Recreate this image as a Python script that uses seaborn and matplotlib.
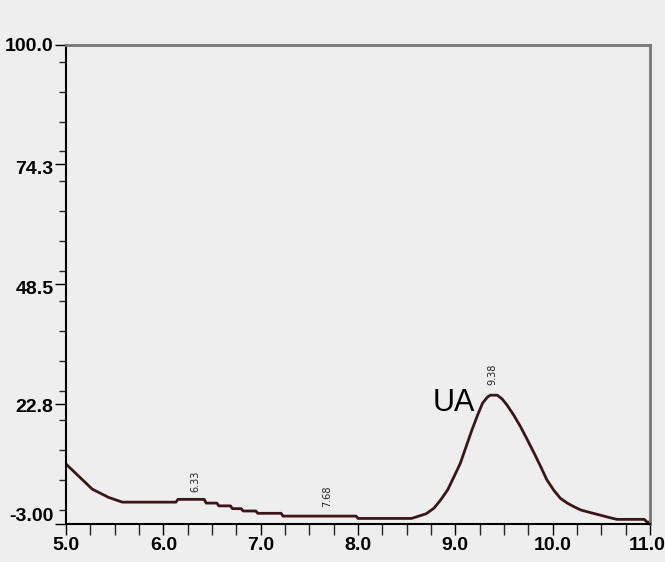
import numpy as np
import pandas as pd
import seaborn as sns
import matplotlib.pyplot as plt
from matplotlib.ticker import MultipleLocator
from matplotlib.transforms import ScaledTranslation

# retention time (min) and signal
time_min = [5.00, 5.27, 5.44, 5.58, 6.13, 6.15, 6.42, 6.44, 6.55, 6.57, 6.69, 6.71,
            6.80, 6.82, 6.95, 6.97, 7.21, 7.23, 7.98, 8.00, 8.55, 8.61, 8.70, 8.78,
            8.85, 8.92, 8.98, 9.05, 9.11, 9.17, 9.23, 9.28, 9.33, 9.36, 9.43, 9.48,
            9.53, 9.60, 9.67, 9.74, 9.81, 9.88, 9.94, 10.01, 10.08, 10.15, 10.22,
            10.29, 10.38, 10.49, 10.58, 10.66, 10.94, 10.97, 11.00]
signal = [9.9, 4.5, 2.7, 1.7, 1.7, 2.3, 2.3, 1.5, 1.5, 0.9, 0.9, 0.3,
          0.3, -0.2, -0.2, -0.7, -0.7, -1.3, -1.3, -1.8, -1.8, -1.4, -0.8, 0.4,
          2.2, 4.3, 6.9, 10.0, 13.6, 17.2, 20.5, 23.0, 24.3, 24.7, 24.7, 23.9,
          22.6, 20.4, 17.9, 15.1, 12.2, 9.2, 6.5, 4.3, 2.5, 1.5, 0.7,
          0.0, -0.5, -1.1, -1.6, -2.0, -2.0, -2.6, -2.6]

y_ticks = [100.0, 74.3, 48.5, 22.8, -3.00]
y_labels = ["100.0", "74.3", "48.5", "22.8", "-3.00"]
x_ticks = [5.0, 6.0, 7.0, 8.0, 9.0, 10.0, 11.0]
x_labels = ["5.0", "6.0", "7.0", "8.0", "9.0", "10.0", "11.0"]

peak_times = [6.33, 7.68, 9.38]
peak_labels = ["6.33", "7.68", "9.38"]
peak_label_y = [3.9, 0.7, 26.9]

sns.set_style("ticks")
plt.rcParams['font.family'] = ['Liberation Sans', 'DejaVu Sans']

bg = "#eeeeee"
fig = plt.figure(figsize=(6.65, 5.62), dpi=100, facecolor=bg)
ax = fig.add_axes([0.0992, 0.0676, 0.8783, 0.8524])
ax.set_facecolor(bg)

df = pd.DataFrame({"time": time_min, "signal": signal})
sns.lineplot(data=df, x="time", y="signal", ax=ax, color="#3b1616",
             linewidth=2.0, estimator=None, sort=False)

ax.set_xlim(5.0, 11.0)
ax.set_ylim(-3.0, 100.0)
ax.set_xticks(x_ticks)
ax.set_xticklabels(x_labels)
ax.set_yticks(y_ticks)
ax.set_yticklabels(y_labels)
ax.xaxis.set_minor_locator(MultipleLocator(0.25))
ax.yaxis.set_minor_locator(MultipleLocator((100.0 - 74.3) / 4))
ax.tick_params(axis="both", which="major", direction="out", length=8, width=1,
               labelsize=14, pad=1, colors="black")
ax.tick_params(axis="y", which="minor", direction="out", length=5, width=1)
ax.tick_params(axis="x", which="minor", direction="out", length=8, width=1)
for lab in ax.get_xticklabels() + ax.get_yticklabels():
    lab.set_fontweight("bold")
ax.set_xlabel("")
ax.set_ylabel("")

# small nudges so the labels sit as in the original instrument print-out
xt = ax.get_xticklabels()
xt[-1].set_transform(xt[-1].get_transform() + ScaledTranslation(-3 / 100, 0, fig.dpi_scale_trans))
yt = ax.get_yticklabels()
for lab, dy in zip(yt, [0, -3, -3, -1, 10]):
    lab.set_transform(lab.get_transform() + ScaledTranslation(0, dy / 100, fig.dpi_scale_trans))

for side in ["left", "bottom"]:
    ax.spines[side].set_color("black")
    ax.spines[side].set_linewidth(1.5)
for side in ["top", "right"]:
    ax.spines[side].set_visible(True)
    ax.spines[side].set_color("#777777")
    ax.spines[side].set_linewidth(2)

for t, lab, ly in zip(peak_times, peak_labels, peak_label_y):
    ax.text(t, ly, lab, rotation=90, ha="center", va="bottom", fontsize=7,
            family="DejaVu Sans", color="#222222")

ax.text(8.98, 23.0, "UA", fontsize=22, ha="center", va="center", color="black")

fig.savefig("out.png", dpi=100, facecolor=bg)
